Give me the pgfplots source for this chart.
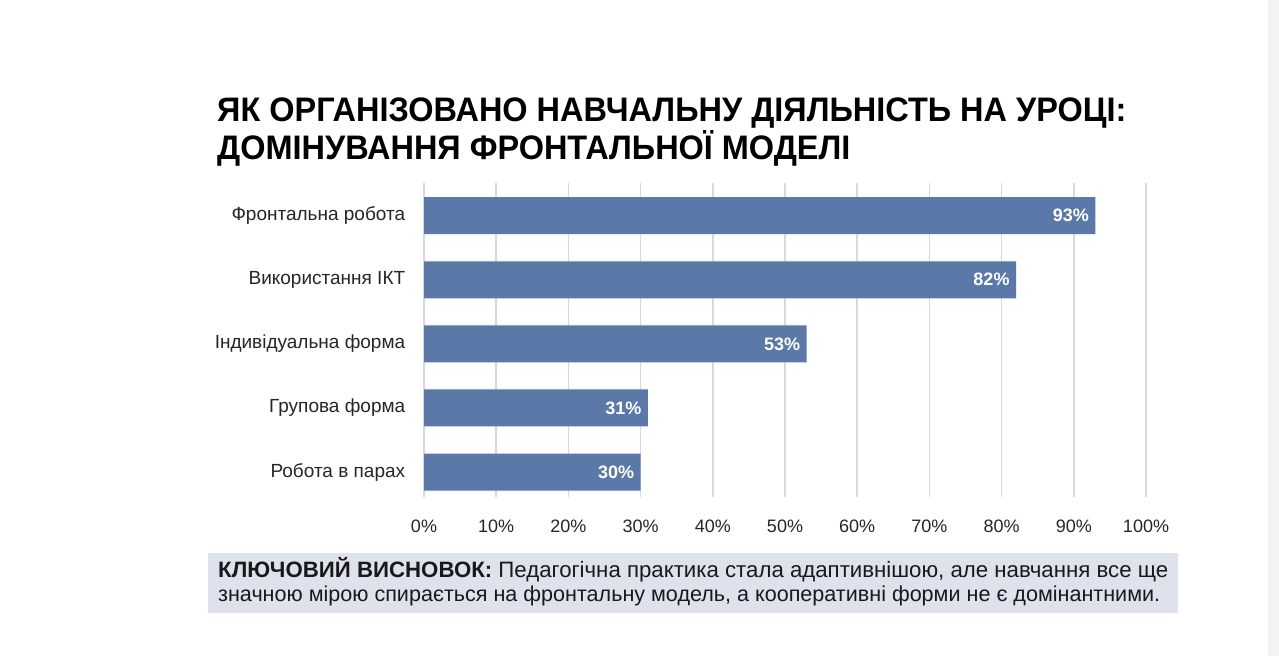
\documentclass[border=0pt]{standalone}
\usepackage{fontspec}
\setmainfont{Liberation Sans}
\usepackage{pgfplots}
\pgfplotsset{compat=1.18}

\definecolor{barblue}{HTML}{5A78A8}
\definecolor{gridgray}{HTML}{DADADA}
\definecolor{boxfill}{HTML}{DDE2EC}
\definecolor{edgegray}{HTML}{F3F3F3}

\pgfplotstableread{
idx value
0 93
1 82
2 53
3 31
4 30
}\formsdata

\begin{document}
\begin{tikzpicture}[x=1pt,y=1pt]
  % page frame, 1pt = 1px of the reference
  \fill[white] (0,0) rectangle (1279,656);
  \fill[edgegray] (1268,0) rectangle (1279,656);
  \useasboundingbox (0,0) rectangle (1279,656);

  % title
  \node[anchor=base west, inner sep=0, font=\fontsize{34}{38}\selectfont\bfseries]
    at (217,534) {\scalebox{0.955}[1]{ЯК ОРГАНІЗОВАНО НАВЧАЛЬНУ ДІЯЛЬНІСТЬ НА УРОЦІ:}};
  \node[anchor=base west, inner sep=0, font=\fontsize{34}{38}\selectfont\bfseries]
    at (217,496) {\scalebox{0.955}[1]{ДОМІНУВАННЯ ФРОНТАЛЬНОЇ МОДЕЛІ}};

  \begin{axis}[
      at={(424pt,159pt)}, anchor=south west,
      scale only axis,
      width=722pt, height=314pt,
      xbar, bar width=37pt,
      xmin=0, xmax=100,
      ymin=-0.51, ymax=4.39,
      y dir=reverse,
      /pgf/number format/assume math mode=true,
      axis line style={draw=none},
      tick style={draw=none},
      xtick={0,10,...,100},
      xticklabels={0\%,10\%,20\%,30\%,40\%,50\%,60\%,70\%,80\%,90\%,100\%},
      xticklabel style={anchor=base, yshift=-35pt, font=\fontsize{18}{20}\selectfont, text=black!85},
      ytick={0,1,2,3,4},
      yticklabels={Фронтальна робота, Використання ІКТ, Індивідуальна форма, Групова форма, Робота в парах},
      yticklabel style={font=\fontsize{19}{21}\selectfont, text=black!85, xshift=-11pt},
      xmajorgrids,
      major grid style={gridgray, line width=1.5pt},
      nodes near coords={\pgfmathprintnumber{\pgfplotspointmeta}\%},
      nodes near coords style={anchor=east, xshift=-3pt, text=white,
        font=\fontsize{18}{20}\selectfont\bfseries},
    ]
    \addplot[fill=barblue, draw=none] table[x=value, y=idx] {\formsdata};
  \end{axis}

  % key conclusion box
  \fill[boxfill] (208,43) rectangle (1178,103);
  \node[anchor=base west, inner sep=0, font=\fontsize{21}{23}\selectfont, text=black!90]
    at (218,78) {\resizebox{950pt}{!}{\textbf{КЛЮЧОВИЙ ВИСНОВОК:} Педагогічна практика стала адаптивнішою, але навчання все ще}};
  \node[anchor=base west, inner sep=0, font=\fontsize{21}{23}\selectfont, text=black!90]
    at (218,55) {\resizebox{942pt}{!}{значною мірою спирається на фронтальну модель, а кооперативні форми не є домінантними.}};
\end{tikzpicture}
\end{document}
